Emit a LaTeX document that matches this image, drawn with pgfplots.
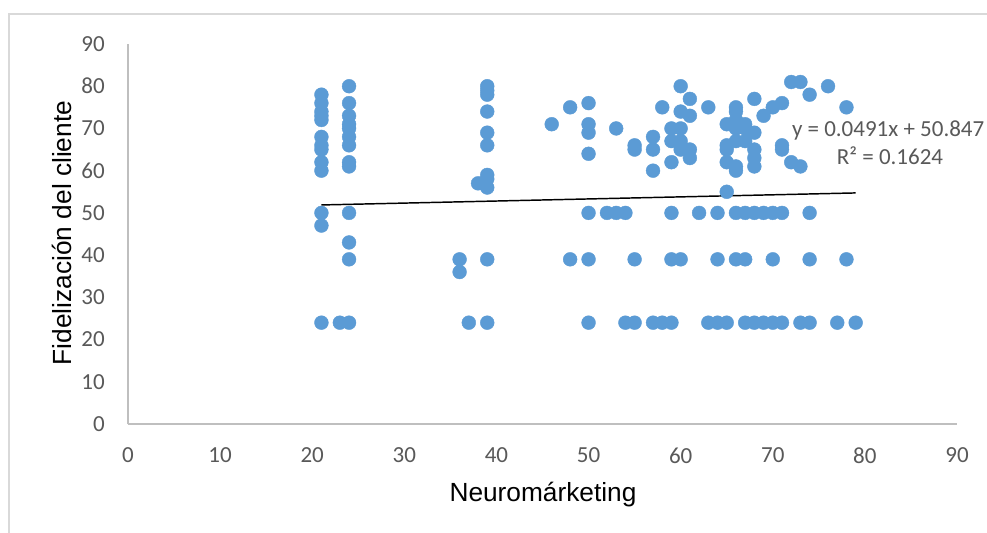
\documentclass[border=0pt]{standalone}
\usepackage{pgfplots}
\pgfplotsset{compat=1.18}
\usepackage{fontspec}
\setmainfont{Liberation Sans}
\newfontfamily\calibri{Carlito}
\definecolor{dotblue}{HTML}{5B9BD5}
\definecolor{ticktxt}{HTML}{595959}
\definecolor{axgray}{HTML}{BFBFBF}
\definecolor{bordergray}{HTML}{D9D9D9}
\begin{document}
\begin{tikzpicture}
\useasboundingbox (0pt,0pt) rectangle (740.25pt,399pt);
\fill[white] (0pt,0pt) rectangle (740.25pt,399pt);
\draw[bordergray, line width=1pt] (6.75pt,-2pt) -- (6.75pt,388.5pt) -- (745pt,388.5pt);
\begin{axis}[
  at={(96pt,81pt)}, anchor=south west,
  scale only axis, width=621.75pt, height=285pt,
  xmin=0, xmax=90, ymin=0, ymax=90,
  xtick={0,10,...,90}, ytick={0,10,...,90},
  axis x line*=bottom, axis y line*=left,
  axis line style={draw=axgray, line width=1pt},
  major tick length=0pt,
  /pgf/number format/assume math mode=true,
  tick label style={font=\calibri\fontsize{17.25pt}{20pt}\selectfont, text=ticktxt, inner sep=0pt},
  xticklabel style={anchor=north, yshift=-17.8pt},
  yticklabel style={anchor=east, xshift=-17.25pt},
  clip=false,
]
\addplot[only marks, mark=*, mark size=5.2pt, mark options={fill=dotblue, draw=dotblue, line width=0.3pt}] coordinates {
(21,78) (21,76) (21,74) (21,73) (21,72) (21,68) (21,66) (21,65) (21,62) (21,60) (21,50) (21,47) (21,24)
(23,24)
(24,80) (24,76) (24,73) (24,71) (24,70) (24,68) (24,66) (24,62) (24,61) (24,50) (24,43) (24,39) (24,24)
(36,39) (36,36) (37,24) (38,57)
(39,80) (39,79) (39,78) (39,74) (39,69) (39,66) (39,59) (39,58) (39,56) (39,39) (39,24)
(46,71)
(48,75) (48,39)
(50,76) (50,71) (50,69) (50,64) (50,50) (50,39) (50,24)
(52,50)
(53,70) (53,50)
(54,50) (54,24)
(55,66) (55,65) (55,39) (55,24)
(57,68) (57,65) (57,60) (57,24)
(58,75) (58,24)
(59,70) (59,67) (59,62) (59,50) (59,39) (59,24)
(60,80) (60,74) (60,70) (60,67) (60,65) (60,39)
(61,77) (61,73) (61,65) (61,63)
(62,50)
(63,75) (63,24)
(64,50) (64,39) (64,24)
(65,71) (65,66) (65,65) (65,62) (65,55) (65,24)
(66,75) (66,74) (66,72) (66,70) (66,67) (66,61) (66,60) (66,50) (66,39)
(67,71) (67,70) (67,67) (67,50) (67,39) (67,24)
(68,77) (68,69) (68,65) (68,63) (68,61) (68,50) (68,24)
(69,73) (69,50) (69,24)
(70,75) (70,50) (70,39) (70,24)
(71,76) (71,66) (71,65) (71,50) (71,24)
(72,81) (72,62)
(73,81) (73,61) (73,24)
(74,78) (74,50) (74,39) (74,24)
(76,80)
(77,24)
(78,75) (78,39)
(79,24)
};
\addplot[black, line width=1.1pt] coordinates {(21,51.878) (79,54.726)};
\end{axis}
\node[anchor=base west, inner sep=0pt, text=ticktxt, font=\calibri\fontsize{17.25pt}{20pt}\selectfont] at (593.8pt,296.5pt) {y = 0.0491x + 50.847};
\node[anchor=base, inner sep=0pt, text=ticktxt, font=\calibri\fontsize{17.25pt}{20pt}\selectfont] at (667.5pt,275.25pt) {R² = 0.1624};
\node[rotate=90, anchor=base, inner sep=0pt, font=\fontsize{19.7pt}{23pt}\selectfont] at (53.8pt,224.25pt) {Fidelización del cliente};
\node[anchor=base, inner sep=0pt, font=\fontsize{19.7pt}{23pt}\selectfont] at (407.25pt,23.25pt) {Neuromárketing};
\end{tikzpicture}
\end{document}
